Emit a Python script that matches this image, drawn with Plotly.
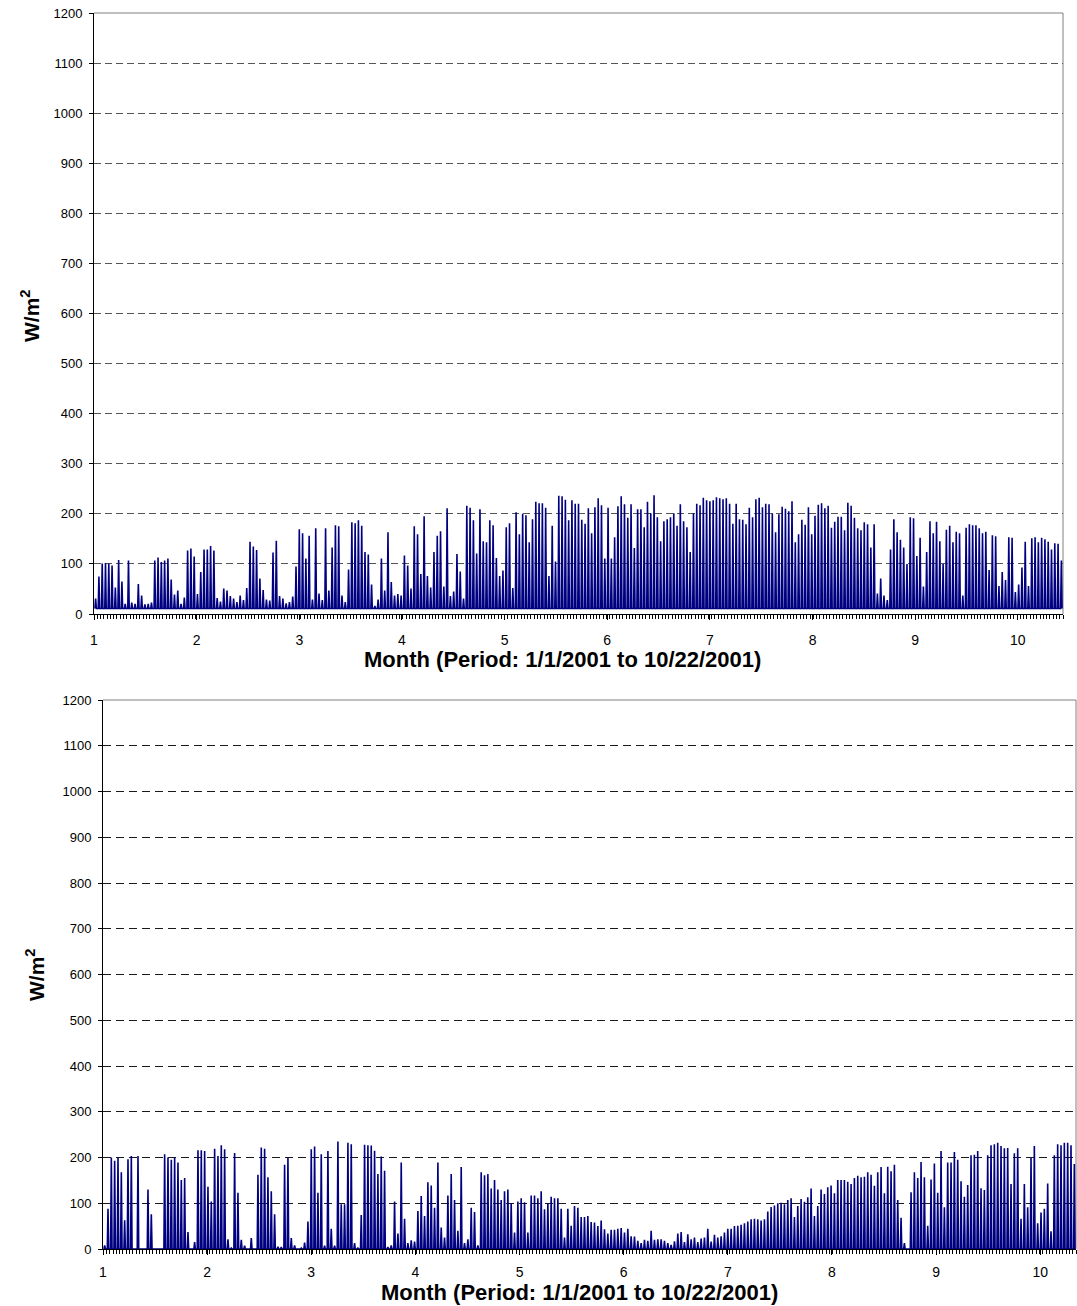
import plotly.graph_objects as go

# Figure size (px)
W, H = 1077, 1306

# Daily samples per unit on the month axis
DAYS_PER_UNIT = 31.25

# Axis labels
month_ticks = list(range(1, 11))
value_ticks = list(range(0, 1300, 100))
x_title = "Month (Period: 1/1/2001 to 10/22/2001)"
y_title = "<b>W/m<sup>2</sup></b>"

# Daily peak irradiance, upper sensor (W/m2)
top_peaks = [
    31, 75, 101, 102, 101, 97, 53, 108, 65, 20,
    107, 23, 20, 60, 37, 19, 20, 23, 107, 113,
    104, 107, 111, 69, 39, 47, 20, 33, 127, 131,
    115, 40, 84, 129, 129, 136, 127, 32, 25, 51,
    47, 36, 31, 24, 37, 28, 52, 144, 135, 128,
    71, 48, 29, 27, 123, 146, 36, 31, 21, 24,
    35, 95, 169, 161, 111, 156, 29, 171, 41, 28,
    171, 47, 133, 177, 175, 37, 24, 89, 183, 181,
    187, 176, 124, 119, 59, 16, 29, 111, 47, 163,
    64, 37, 40, 37, 117, 97, 51, 175, 159,
    80, 195, 76, 53, 124, 156, 165, 55, 211, 36,
    45, 120, 85, 31, 216, 212, 187, 121, 209, 145,
    143, 187, 177, 112, 76, 87, 173, 181, 52, 203,
    159, 200, 197, 143, 189, 224, 221, 221, 212, 76,
    176, 105, 236, 235, 228, 187, 227, 220,
    220, 188, 180, 211, 161, 213, 231, 217, 111, 212,
    111, 153, 215, 235, 219, 192, 219, 132, 209, 209,
    173, 224, 201, 237, 193, 145, 185, 189, 193, 201,
    176, 219, 185, 173, 124, 201, 220, 217, 232, 227,
    225, 227, 233, 231, 229, 231, 220, 180, 220,
    189, 188, 179, 212, 193, 229, 232, 213, 220, 219,
    201, 163, 199, 214, 210, 205, 225, 143, 159, 188,
    178, 213, 159, 196, 218, 221, 211, 216, 172, 184,
    194, 194, 167, 222, 216, 192, 171, 167, 183, 179,
    133, 179, 41, 71, 37, 28, 129, 189, 163,
    148, 133, 100, 193, 191, 116, 152, 55, 124, 185,
    161, 184, 145, 100, 168, 176, 143, 164, 161, 37,
    172, 179, 177, 177, 171, 161, 164, 88, 157, 155,
    56, 84, 68, 153, 152, 44, 59, 93, 144, 56,
    151, 153, 143, 152, 149, 144, 129, 141, 140, 107,
]
top_night = 11

# Daily peak irradiance, lower sensor (W/m2)
bottom_peaks = [
    8, 88, 200, 193, 200, 168, 63, 196, 203, 0,
    203, 0, 0, 130, 76, 0, 0, 0, 207, 200,
    195, 200, 189, 151, 155, 37, 0, 15, 216, 216,
    214, 136, 104, 219, 203, 227, 218, 21, 2, 210,
    123, 20, 7, 0, 24, 0, 162, 222, 219,
    157, 126, 76, 5, 4, 184, 200, 24, 8, 0,
    2, 14, 60, 218, 224, 123, 207, 7, 214, 44,
    7, 235, 98, 98, 232, 229, 13, 2, 74, 228,
    227, 226, 215, 164, 202, 171, 4, 8, 104, 34,
    189, 66, 13, 19, 16, 83, 116, 72, 146,
    139, 90, 189, 47, 25, 117, 164, 107, 40, 179,
    13, 21, 90, 81, 8, 168, 161, 164, 132, 151,
    130, 107, 126, 130, 100, 36, 104, 111, 102, 36,
    117, 117, 111, 126, 87, 100, 114, 111, 111, 88,
    25, 88, 51, 94, 90, 70, 70, 72,
    59, 58, 50, 62, 43, 34, 42, 42, 44, 46,
    36, 44, 28, 27, 18, 13, 20, 18, 40, 20,
    21, 21, 18, 13, 9, 17, 34, 37, 15, 32,
    21, 25, 15, 23, 25, 44, 16, 31, 25, 28,
    36, 44, 44, 50, 51, 53, 56, 60, 65,
    66, 65, 62, 65, 82, 92, 95, 100, 101, 98,
    107, 111, 70, 94, 109, 103, 113, 132, 72, 94,
    130, 120, 135, 139, 122, 151, 151, 151, 147, 142,
    155, 160, 157, 158, 168, 162, 138, 168, 179, 122,
    180, 170, 184, 107, 68, 13, 0, 124,
    168, 155, 190, 157, 51, 152, 187, 123, 214, 91,
    189, 189, 212, 195, 148, 114, 140, 205, 206, 214,
    133, 129, 205, 227, 229, 232, 225, 220, 221, 142,
    209, 220, 66, 142, 91, 199, 225, 56, 80, 88,
    143, 39, 205, 229, 227, 232, 232, 227, 186,
]
bottom_night = 0

LINE_COLOR = "#000080"
FONT = "Liberation Sans, Arial, sans-serif"


def daily_trace(peaks, night):
    """Each day rises from the night level to its peak and falls back."""
    xs, ys = [], []
    half = 0.22 / DAYS_PER_UNIT
    for i, p in enumerate(peaks):
        c = 1 + (i + 0.5) / DAYS_PER_UNIT
        xs += [c - half, c, c + half]
        ys += [night, p, night]
    return xs, ys


fig = go.Figure()

tx, ty = daily_trace(top_peaks, top_night)
bx, by = daily_trace(bottom_peaks, bottom_night)

fig.add_trace(go.Scatter(x=tx, y=ty, mode="lines", xaxis="x", yaxis="y",
                         line=dict(color=LINE_COLOR, width=1.6), hoverinfo="skip",
                         showlegend=False))
fig.add_trace(go.Scatter(x=bx, y=by, mode="lines", xaxis="x2", yaxis="y2",
                         line=dict(color=LINE_COLOR, width=1.6), hoverinfo="skip",
                         showlegend=False))


def x_axis(domain, n_days, anchor, standoff):
    return dict(
        domain=domain, anchor=anchor, automargin=False,
        range=[1, 1 + n_days / DAYS_PER_UNIT],
        tickmode="array", tickvals=month_ticks, ticktext=[str(m) for m in month_ticks],
        ticks="outside", ticklen=5, tickcolor="black", ticklabelstandoff=standoff,
        minor=dict(dtick=1 / DAYS_PER_UNIT, tick0=1, ticks="outside", ticklen=4,
                   tickcolor="black", showgrid=False),
        showline=True, linecolor="black", linewidth=1,
        showgrid=False, zeroline=False,
        tickfont=dict(family=FONT, size=14, color="black"),
    )


def y_axis(domain, anchor, grid_color, dash):
    return dict(
        domain=domain, anchor=anchor, range=[0, 1200], automargin=False,
        tickmode="array", tickvals=value_ticks,
        ticks="outside", ticklen=4, tickcolor="black", ticklabelstandoff=4,
        showline=True, linecolor="black", linewidth=1,
        showgrid=True, gridcolor=grid_color, gridwidth=1, griddash=dash,
        zeroline=False,
        tickfont=dict(family=FONT, size=13, color="black"),
    )


fig.update_layout(
    width=W, height=H,
    margin=dict(l=0, r=0, t=0, b=0, autoexpand=False),
    paper_bgcolor="white", plot_bgcolor="white",
    xaxis=x_axis([94 / W, 1063 / W], len(top_peaks), "y", 8),
    yaxis=y_axis([1 - 614 / H, 1 - 13 / H], "x", "#555555", "7px,4px"),
    xaxis2=x_axis([103 / W, 1076 / W], len(bottom_peaks), "y2", 5),
    yaxis2=y_axis([1 - 1249 / H, 1 - 700 / H], "x2", "#1a1a1a", "8px,5px"),
)

# Plot-area frame (top and right edges)
for xr, yr in (("x domain", "y domain"), ("x2 domain", "y2 domain")):
    fig.add_shape(type="line", xref=xr, yref=yr, x0=0, x1=1, y0=1, y1=1,
                  line=dict(color="#808080", width=1), layer="below")
    fig.add_shape(type="line", xref=xr, yref=yr, x0=1, x1=1, y0=0, y1=1,
                  line=dict(color="#808080", width=1), layer="below")

# Axis titles
title_font = dict(family=FONT, size=22, color="black")
fig.add_annotation(text="<b>" + x_title + "</b>", xref="paper", yref="paper",
                   x=562 / W, y=1 - 659 / H, showarrow=False, font=title_font,
                   xanchor="center", yanchor="middle")
fig.add_annotation(text="<b>" + x_title + "</b>", xref="paper", yref="paper",
                   x=579 / W, y=1 - 1292 / H, showarrow=False, font=title_font,
                   xanchor="center", yanchor="middle")
ytitle_font = dict(family=FONT, size=21, color="black")
fig.add_annotation(text=y_title, xref="paper", yref="paper",
                   x=30 / W, y=1 - 316 / H, showarrow=False, font=ytitle_font,
                   textangle=-90, xanchor="center", yanchor="middle")
fig.add_annotation(text=y_title, xref="paper", yref="paper",
                   x=35 / W, y=1 - 975 / H, showarrow=False, font=ytitle_font,
                   textangle=-90, xanchor="center", yanchor="middle")

fig.write_html("out.html")
